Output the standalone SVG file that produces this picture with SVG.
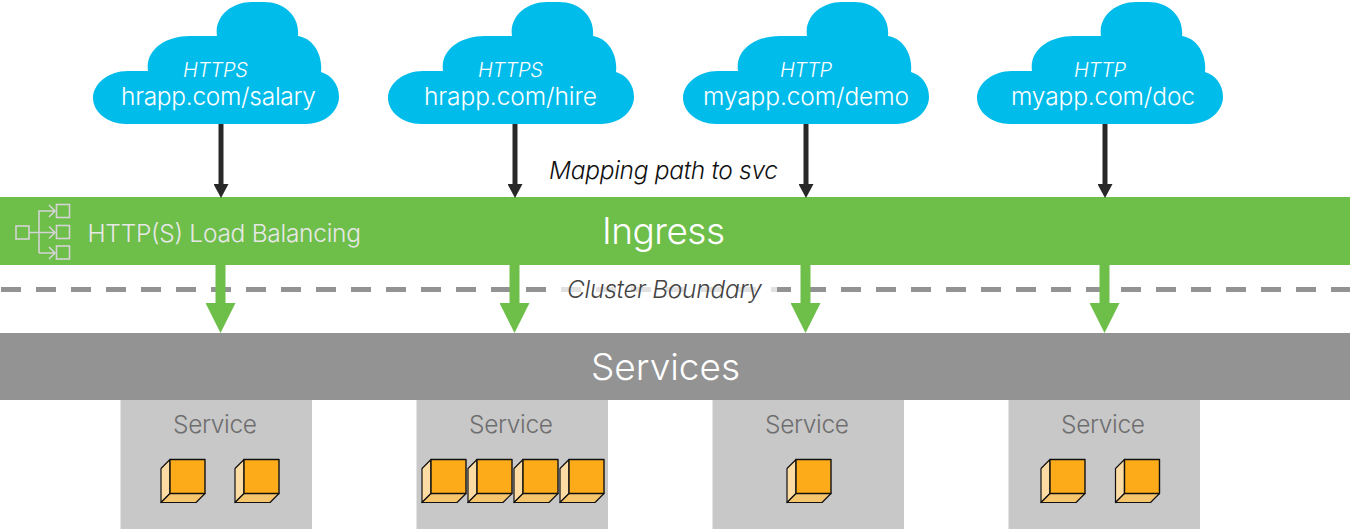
<svg xmlns="http://www.w3.org/2000/svg" xmlns:xlink="http://www.w3.org/1999/xlink" width="1352" height="529" viewBox="0 0 1352 529">
<style>
text{font-family:"Inter","Liberation Sans",sans-serif;font-weight:300}
.cloud{fill:#00bceb}
.proto{font-size:20px;font-style:italic;fill:#fff}
.url{font-size:24.500px;fill:#fff}
.svc{fill:#c8c8c8}
.svct{font-size:24.500px;fill:#6e6e6e}
.front{fill:#fdab18;stroke:#111;stroke-width:1.4;stroke-linejoin:round}
.left{fill:#fddca4;stroke:#111;stroke-width:1.2;stroke-linejoin:round}
.bottom{fill:#f7c56c;stroke:#111;stroke-width:1.2;stroke-linejoin:round}
.blk{stroke:#282828;stroke-width:5;fill:none}
.grn{stroke:#6ebe4a;stroke-width:10;fill:none}
.ic{fill:none;stroke:#d4d4d4;stroke-width:1.6}
</style>
<defs>
<path id="cl" d="M126 124H306C326 124 339 110 339 97C339 84 331 75 321 72C323 53 312 38 298 36C300 17 285 2 264 2H252C231 2 214 17 217 36H190C165 36 145 50 148 71H128C108 71 93 84 93 98C93 112 108 124 126 124Z"/>
<g id="cube">
<path class="left" d="M0 9L9 0V34L0 43Z"/>
<path class="bottom" d="M0 43L9 34H44L35 43Z"/>
<rect class="front" x="9" y="0" width="35" height="34"/>
</g>
<marker id="ah" markerUnits="userSpaceOnUse" markerWidth="14" markerHeight="15" refX="0" refY="7.500" orient="auto"><path d="M0 0L14 7.500L0 15Z" fill="#282828"/></marker>
<marker id="gh" markerUnits="userSpaceOnUse" markerWidth="30" markerHeight="30" refX="0" refY="15" orient="auto"><path d="M0 0L30 15L0 30Z" fill="#6ebe4a"/></marker>
</defs>

<g id="boundary">
<line x1="1" y1="289.5" x2="1350" y2="289.5" stroke="#939393" stroke-width="5" stroke-dasharray="20 15"/>
<rect x="555" y="278" width="222" height="24" fill="#fff" opacity=".72"/>
</g>

<g id="ingress">
<rect x="0" y="197" width="1350" height="68" fill="#6ebe4a"/>
<g class="ic">
<rect x="16" y="226" width="13" height="13"/>
<rect x="56.500" y="204.500" width="13" height="13"/>
<rect x="56.500" y="225.500" width="13" height="13"/>
<rect x="56.500" y="246" width="13" height="13"/>
<path d="M29 232.500H55M39 253V211H55M39 253H55M49 205L55 211L49 217M49 226.500L55 232.500L49 238.500M49 247L55 253L49 259"/>
</g>
<text x="87.500" y="242" textLength="273.500" style="font-size:24.500px;fill:#e8e8e8">HTTP(S) Load Balancing</text>
<text x="602" y="244" textLength="123" style="font-size:37px;fill:#fff">Ingress</text>
</g>

<g id="services">
<rect x="0" y="333" width="1350" height="67" fill="#939393"/>
<text x="591" y="380" textLength="149" style="font-size:37px;fill:#fff">Services</text>
</g>

<g id="connectors">
<line class="blk" x1="221" y1="124" x2="221" y2="184" marker-end="url(#ah)"/>
<line class="blk" x1="515" y1="124" x2="515" y2="184" marker-end="url(#ah)"/>
<line class="blk" x1="806" y1="124" x2="806" y2="184" marker-end="url(#ah)"/>
<line class="blk" x1="1105" y1="124" x2="1105" y2="184" marker-end="url(#ah)"/>
<line class="grn" x1="220.500" y1="265" x2="220.500" y2="303" marker-end="url(#gh)"/>
<line class="grn" x1="514.500" y1="265" x2="514.500" y2="303" marker-end="url(#gh)"/>
<line class="grn" x1="805.500" y1="265" x2="805.500" y2="303" marker-end="url(#gh)"/>
<line class="grn" x1="1104.500" y1="265" x2="1104.500" y2="303" marker-end="url(#gh)"/>
</g>

<g id="label-mapping"><text x="549" y="179" textLength="229" style="font-size:24.500px;font-style:italic;fill:#111">Mapping path to svc</text></g>
<g id="label-boundary"><text x="567" y="298" textLength="195" style="font-size:24.500px;font-style:italic;fill:#444">Cluster Boundary</text></g>

<g id="cloud-salary"><use href="#cl" class="cloud"/>
<text class="proto" x="183" y="77" textLength="65">HTTPS</text><text class="url" x="121" y="105" textLength="195">hrapp.com/salary</text></g>
<g id="cloud-hire"><use href="#cl" class="cloud" x="295"/>
<text class="proto" x="478" y="77" textLength="65">HTTPS</text><text class="url" x="424" y="105" textLength="173">hrapp.com/hire</text></g>
<g id="cloud-demo"><use href="#cl" class="cloud" x="590"/>
<text class="proto" x="780" y="77" textLength="52">HTTP</text><text class="url" x="703" y="105" textLength="206">myapp.com/demo</text></g>
<g id="cloud-doc"><use href="#cl" class="cloud" x="884"/>
<text class="proto" x="1074" y="77" textLength="52">HTTP</text><text class="url" x="1011" y="105" textLength="184">myapp.com/doc</text></g>

<g id="service-1"><rect class="svc" x="120.500" y="400" width="191.500" height="129"/><text class="svct" x="173" y="433" textLength="84">Service</text>
<use href="#cube" x="161" y="459.500"/><use href="#cube" x="235" y="459.500"/></g>
<g id="service-2"><rect class="svc" x="416.500" y="400" width="191.500" height="129"/><text class="svct" x="469" y="433" textLength="84">Service</text>
<use href="#cube" x="422" y="459.500"/><use href="#cube" x="468" y="459.500"/><use href="#cube" x="514" y="459.500"/><use href="#cube" x="560" y="459.500"/></g>
<g id="service-3"><rect class="svc" x="712.500" y="400" width="191.500" height="129"/><text class="svct" x="765" y="433" textLength="84">Service</text>
<use href="#cube" x="787" y="459.500"/></g>
<g id="service-4"><rect class="svc" x="1008.500" y="400" width="191.500" height="129"/><text class="svct" x="1061" y="433" textLength="84">Service</text>
<use href="#cube" x="1041" y="459.500"/><use href="#cube" x="1115.500" y="459.500"/></g>
</svg>
